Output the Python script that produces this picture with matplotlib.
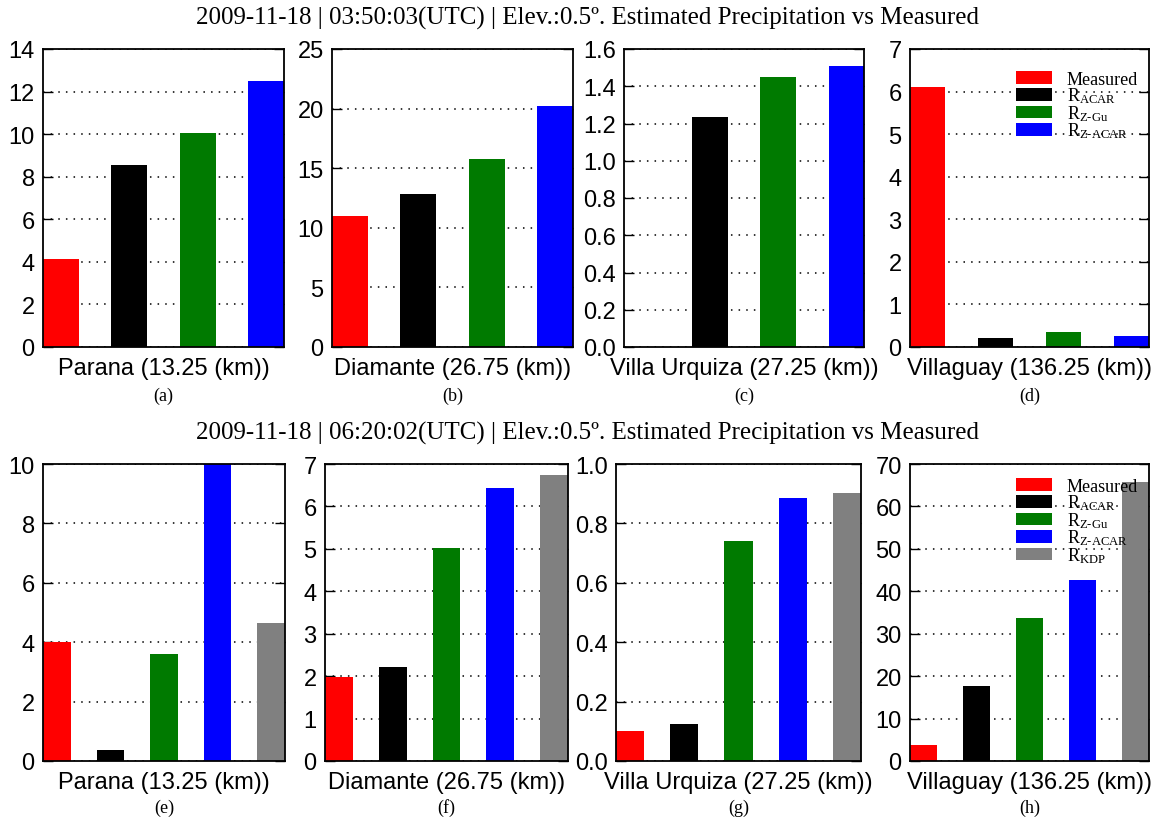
import numpy as np
import matplotlib
matplotlib.use('Agg')
import matplotlib.pyplot as plt
from matplotlib.patches import Patch

plt.rcParams['mathtext.fontset'] = 'custom'
plt.rcParams['mathtext.rm'] = 'Liberation Serif'
plt.rcParams['mathtext.it'] = 'Liberation Serif:italic'
plt.rcParams['mathtext.bf'] = 'Liberation Serif:bold'

# Stations and series
stations = ['Parana (13.25 (km))', 'Diamante (26.75 (km))',
            'Villa Urquiza (27.25 (km))', 'Villaguay (136.25 (km))']
letters_top = ['(a)', '(b)', '(c)', '(d)']
letters_bot = ['(e)', '(f)', '(g)', '(h)']

labels = ['Measured', r'R$_{\mathrm{ACAR}}$', r'R$_{\mathrm{Z\text{-}Gu}}$',
          r'R$_{\mathrm{Z\text{-}ACAR}}$', r'R$_{\mathrm{KDP}}$']
colors = ['#ff0000', '#000000', '#007a00', '#0000ff', '#808080']

title_top = '2009-11-18 | 03:50:03(UTC) | Elev.:0.5º. Estimated Precipitation vs Measured'
title_bot = '2009-11-18 | 06:20:02(UTC) | Elev.:0.5º. Estimated Precipitation vs Measured'

# 03:50:03 - Measured, R_ACAR, R_Z-Gu, R_Z-ACAR
top_parana = [4.15, 8.55, 10.05, 12.48]
top_diamante = [11.0, 12.8, 15.75, 20.2]
top_urquiza = [0.0, 1.235, 1.448, 1.507]
top_villaguay = [6.11, 0.21, 0.35, 0.27]

# 06:20:02 - Measured, R_ACAR, R_Z-Gu, R_Z-ACAR, R_KDP
bot_parana = [3.99, 0.36, 3.6, 10.0, 4.66]
bot_diamante = [1.97, 2.21, 5.02, 6.43, 6.73]
bot_urquiza = [0.10, 0.124, 0.74, 0.885, 0.904]
bot_villaguay = [3.75, 17.6, 33.6, 42.6, 65.7]

top_data = [top_parana, top_diamante, top_urquiza, top_villaguay]
bot_data = [bot_parana, bot_diamante, bot_urquiza, bot_villaguay]
top_ylim = [(0, 14, 2), (0, 25, 5), (0, 1.6, 0.2), (0, 7, 1)]
bot_ylim = [(0, 10, 2), (0, 7, 1), (0, 1.0, 0.2), (0, 70, 10)]

W, H = 1157, 820
fig = plt.figure(figsize=(W / 100, H / 100), dpi=100)

sans = 'Liberation Sans'
serif = 'Liberation Serif'

# pixel boxes (left, right) of each panel
top_x = [(43, 284), (332, 573), (624, 864), (910, 1149)]
bot_x = [(43, 285), (325, 568), (616, 861), (910, 1149)]
top_y = (50, 348)
bot_y = (465, 762)


def panel(x0, x1, y0, y1, vals, lim, station, letter, lab_y, let_y, legend_y=None):
    ax = fig.add_axes([x0 / W, 1 - y1 / H, (x1 - x0) / W, (y1 - y0) / H])
    n = len(vals)
    xs = np.arange(n)
    ax.bar(xs, vals, width=0.52, color=colors[:n], zorder=2)
    ax.set_xlim(-0.26, n - 1 + 0.26)
    lo, hi, step = lim
    ax.set_ylim(lo, hi)
    ticks = np.arange(lo, hi + step / 2, step)
    ax.set_yticks(ticks)
    if step < 1:
        ax.set_yticklabels(['%.1f' % t for t in ticks])
    else:
        ax.set_yticklabels(['%d' % t for t in ticks])
    ax.set_xticks([])
    ax.yaxis.grid(True, linestyle=(0, (1, 4)), color='black', linewidth=1.1, zorder=0)
    ax.set_axisbelow(True)
    ax.tick_params(axis='y', direction='in', length=7, width=1, right=True,
                   labelsize=17, pad=6)
    for t in ax.get_yticklabels():
        t.set_fontfamily(sans)
    for s in ax.spines.values():
        s.set_linewidth(1.3)
    xc = (x0 + x1) / 2 / W
    fig.text(xc, 1 - lab_y / H, station, ha='center', va='center',
             fontsize=17, family=sans)
    fig.text(xc, 1 - let_y / H, letter, ha='center', va='center',
             fontsize=13, family=serif)
    if legend_y is not None:
        handles = [Patch(facecolor=colors[i], edgecolor='none') for i in range(n)]
        ax.legend(handles, labels[:n], loc='upper right', frameon=False,
                  prop={'family': serif, 'size': 13}, handlelength=1.95,
                  handleheight=0.7, labelspacing=-0.12, handletextpad=0.85,
                  borderaxespad=0.2, bbox_to_anchor=(1.0, legend_y))
    return ax


for i in range(4):
    panel(top_x[i][0], top_x[i][1], top_y[0], top_y[1], top_data[i], top_ylim[i],
          stations[i], letters_top[i], 369, 396, 0.963 if i == 3 else None)
    panel(bot_x[i][0], bot_x[i][1], bot_y[0], bot_y[1], bot_data[i], bot_ylim[i],
          stations[i], letters_bot[i], 783, 808, 0.99 if i == 3 else None)

fig.text(588 / W, 1 - 18 / H, title_top, ha='center', va='center', fontsize=18, family=serif)
fig.text(588 / W, 1 - 433 / H, title_bot, ha='center', va='center', fontsize=18, family=serif)

fig.savefig('out.png', dpi=100)
